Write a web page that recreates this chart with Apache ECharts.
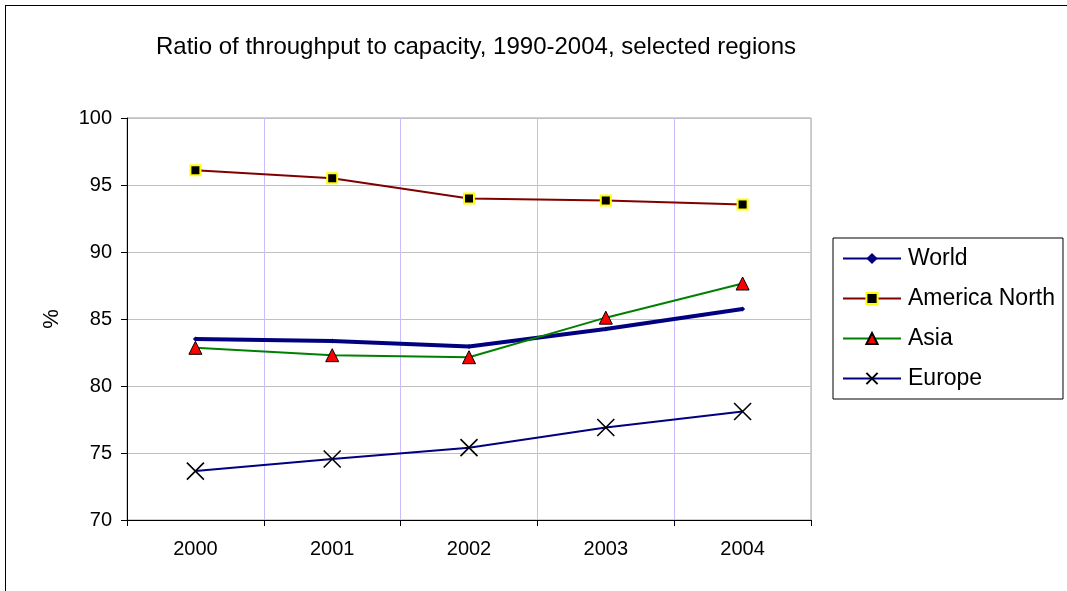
<!DOCTYPE html>
<html>
<head>
<meta charset="utf-8">
<script src="https://cdn.jsdelivr.net/npm/echarts@6/dist/echarts.min.js"></script>
<style>
html,body{margin:0;padding:0;background:#fff;overflow:hidden;width:1067px;height:591px;}
#frame{position:absolute;left:5px;top:5px;width:1200px;height:700px;border:1px solid #000;box-sizing:border-box;}
#chart{position:absolute;left:0;top:0;width:1067px;height:591px;}
</style>
</head>
<body>
<div id="frame"></div>
<div id="chart"></div>
<script>
const titleText = 'Ratio of throughput to capacity, 1990-2004, selected regions';
const years = ['2000', '2001', '2002', '2003', '2004'];
const world = [83.5, 83.35, 82.95, 84.25, 85.75];
const americaNorth = [96.1, 95.5, 94.0, 93.85, 93.55];
const asia = [82.85, 82.3, 82.15, 85.1, 87.65];
const europe = [73.65, 74.55, 75.4, 76.9, 78.1];
const yTicks = { min: 70, max: 100, interval: 5 };

const chart = echarts.init(document.getElementById('chart'), null, { renderer: 'canvas' });
const font = 'Liberation Sans, Arial, sans-serif';
const xSymbol = 'path://M0,0L10,10M10,0L0,10';

chart.setOption({
  animation: false,
  backgroundColor: 'transparent',
  textStyle: { fontFamily: font, color: '#000' },
  title: {
    text: titleText,
    left: 471,
    textAlign: 'center',
    top: 30,
    textStyle: { fontFamily: font, fontSize: 24, fontWeight: 'normal', color: '#000' }
  },
  legend: {
    orient: 'vertical',
    left: 833,
    top: 238,
    padding: [9, 8, 9, 9],
    itemWidth: 58,
    itemHeight: 14,
    itemGap: 17,
    borderColor: '#000',
    borderWidth: 1,
    borderRadius: 0,
    textStyle: { fontFamily: font, fontSize: 23, color: '#000', padding: [0, 0, 0, 2] },
    data: ['World', 'America North', 'Asia', 'Europe']
  },
  grid: {
    left: 127, top: 118, width: 684, height: 402,
    show: true, borderColor: '#a0a0a0', borderWidth: 1, containLabel: false
  },
  xAxis: {
    type: 'category',
    data: years,
    boundaryGap: true,
    axisLine: { show: true, lineStyle: { color: '#000', width: 1 } },
    axisTick: { show: true, length: 6, lineStyle: { color: '#000' } },
    axisLabel: { fontFamily: font, fontSize: 20, color: '#000', margin: 19 },
    splitLine: { show: true, lineStyle: { color: '#ccbbff', width: 1 } }
  },
  yAxis: {
    type: 'value',
    min: yTicks.min, max: yTicks.max, interval: yTicks.interval,
    name: '%',
    nameLocation: 'middle',
    nameGap: 64,
    nameRotate: 90,
    nameTextStyle: { fontFamily: font, fontSize: 22, color: '#000' },
    axisLine: { show: true, lineStyle: { color: '#000', width: 1 } },
    axisTick: { show: true, length: 6, lineStyle: { color: '#000' } },
    axisLabel: { fontFamily: font, fontSize: 20, color: '#000', margin: 15 },
    splitLine: { show: true, lineStyle: { color: '#c0c0c0', width: 1 } }
  },
  series: [
    {
      name: 'World', type: 'line', data: world,
      symbol: 'diamond', symbolSize: 5,
      lineStyle: { color: '#000080', width: 4 },
      itemStyle: { color: '#000080' }, z: 2
    },
    {
      name: 'America North', type: 'line', data: americaNorth,
      symbol: 'rect', symbolSize: 10,
      lineStyle: { color: '#800000', width: 2 },
      itemStyle: { color: '#000', borderColor: '#ffff00', borderWidth: 2 }, z: 3
    },
    {
      name: 'Asia', type: 'line', data: asia,
      symbol: 'triangle', symbolSize: 13,
      lineStyle: { color: '#008000', width: 2 },
      itemStyle: { color: '#ff0000', borderColor: '#000', borderWidth: 1 }, z: 4
    },
    {
      name: 'Europe', type: 'line', data: europe,
      symbol: xSymbol, symbolSize: 17, symbolKeepAspect: true,
      lineStyle: { color: '#000080', width: 2 },
      itemStyle: { color: 'none', borderColor: '#000', borderWidth: 1.6 }, z: 5
    }
  ]
});
</script>
</body>
</html>
